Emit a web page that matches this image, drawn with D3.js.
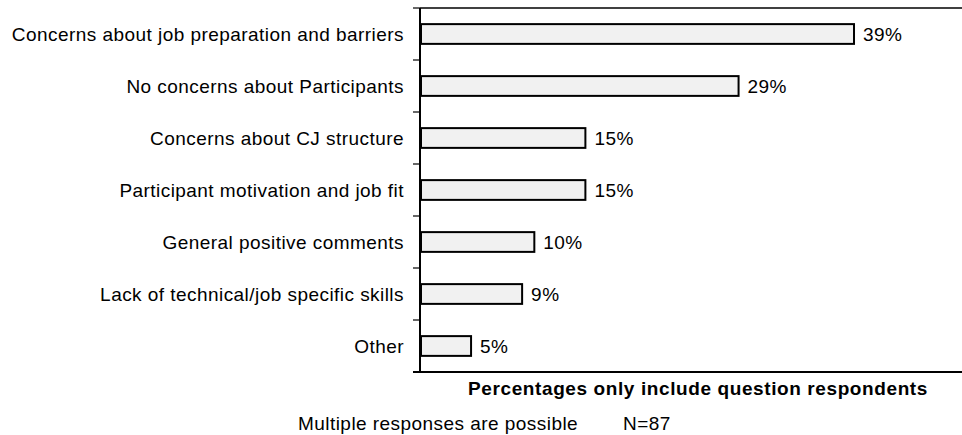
<!DOCTYPE html>
<html>
<head>
<meta charset="utf-8">
<script src="https://cdn.jsdelivr.net/npm/d3@7"></script>
<style>
  body { margin: 0; background: #fff; }
  svg text { font-family: "Liberation Sans", Arial, sans-serif; fill: #000; letter-spacing: 0.45px; }
</style>
</head>
<body>
<svg id="chart" width="962" height="435"></svg>
<script>
// data (bar lengths), labels shown rounded
let categories = [
  "Concerns about job preparation and barriers",
  "No concerns about Participants",
  "Concerns about CJ structure",
  "Participant motivation and job fit",
  "General positive comments",
  "Lack of technical/job specific skills",
  "Other"
];
let values = [39.1, 28.7, 14.9, 14.9, 10.3, 9.2, 4.6];
let footNote = "Percentages only include question respondents";
let subNotes = ["Multiple responses are possible", "N=87"];

let svg = d3.select("#chart");
let plotLeft = 420, plotTop = 8, plotBottom = 372;

let x = d3.scaleLinear().domain([0, 50]).range([plotLeft, plotLeft + 555]);
let y = d3.scaleBand().domain(categories).range([plotTop, plotBottom])
  .paddingInner(0.62).paddingOuter(0.31);

// plot frame: top line, bottom axis
svg.append("line")
  .attr("x1", plotLeft).attr("x2", 962).attr("y1", plotTop).attr("y2", plotTop)
  .attr("stroke", "#000").attr("stroke-width", 1.5);
svg.append("line")
  .attr("x1", plotLeft - 7).attr("x2", 962).attr("y1", plotBottom).attr("y2", plotBottom)
  .attr("stroke", "#000").attr("stroke-width", 2);

// y axis with ticks between categories
svg.append("line")
  .attr("x1", plotLeft).attr("x2", plotLeft).attr("y1", plotTop).attr("y2", plotBottom)
  .attr("stroke", "#000").attr("stroke-width", 2);
let bounds = categories.map(c => y(c) - y.step() * y.paddingInner() / 2);
bounds.push(plotBottom);
svg.selectAll(".tick")
  .data(bounds).enter()
  .append("line")
  .attr("x1", plotLeft - 7).attr("x2", plotLeft)
  .attr("y1", d => d).attr("y2", d => d)
  .attr("stroke", "#000").attr("stroke-width", 1.2);

// bars
svg.selectAll(".bar")
  .data(values).enter()
  .append("rect")
  .attr("x", x(0) + 1)
  .attr("y", (d, i) => y(categories[i]))
  .attr("width", d => x(d) - x(0) - 1)
  .attr("height", y.bandwidth())
  .attr("fill", "#f1f1f1")
  .attr("stroke", "#000")
  .attr("stroke-width", 2);

// category labels
svg.selectAll(".cat")
  .data(categories).enter()
  .append("text")
  .attr("x", 404)
  .attr("y", d => y(d) + y.bandwidth() / 2 + 6.7)
  .attr("text-anchor", "end")
  .attr("font-size", 19)
  .text(d => d);

// value labels
svg.selectAll(".val")
  .data(values).enter()
  .append("text")
  .attr("x", d => x(d) + 9)
  .attr("y", (d, i) => y(categories[i]) + y.bandwidth() / 2 + 6.7)
  .attr("font-size", 19)
  .text(d => Math.round(d) + "%");

// notes
svg.append("text")
  .attr("x", 698).attr("y", 395)
  .attr("text-anchor", "middle")
  .attr("font-size", 19).attr("font-weight", "bold")
  .style("letter-spacing", "0.6px")
  .text(footNote);
svg.append("text")
  .attr("x", 298).attr("y", 430)
  .attr("font-size", 19)
  .text(subNotes[0]);
svg.append("text")
  .attr("x", 623).attr("y", 430)
  .attr("font-size", 19)
  .text(subNotes[1]);
</script>
</body>
</html>
